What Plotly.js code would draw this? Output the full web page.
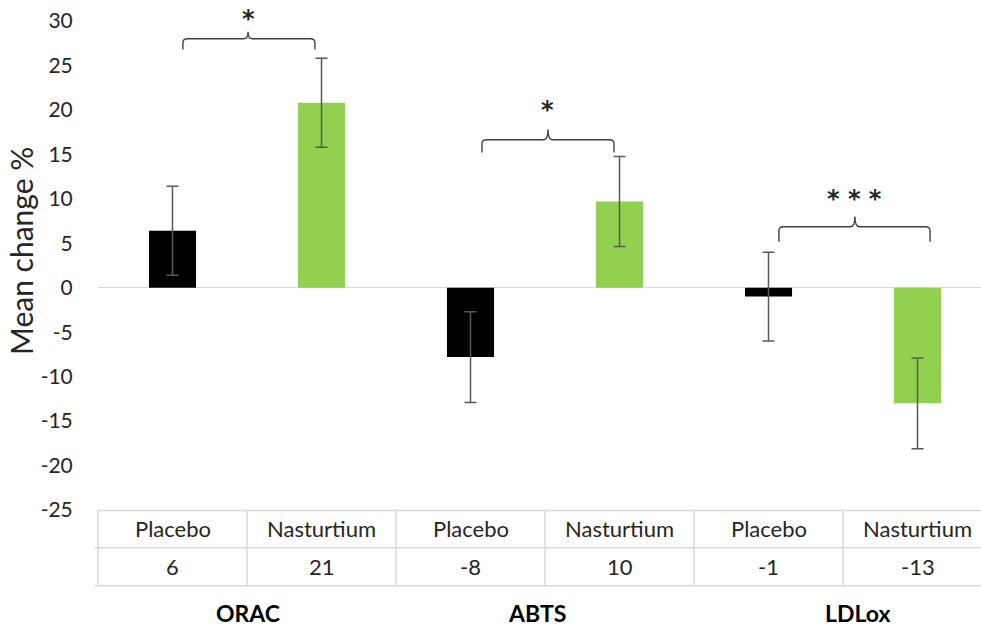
<!DOCTYPE html>
<html>
<head>
<meta charset="utf-8">
<script src="https://cdn.plot.ly/plotly-3.0.1.min.js"></script>
<style>
  html, body { margin: 0; padding: 0; background: #ffffff; }
  #chart { width: 981px; height: 627px; }
</style>
</head>
<body>
<div id="chart"></div>
<script>
// ---- Data ----
const groups = ['ORAC', 'ABTS', 'LDLox'];
const treatments = ['Placebo', 'Nasturtium'];
const placeboMeans = [6.4, -7.8, -1.0];
const nasturtiumMeans = [20.8, 9.7, -13.0];
const placeboErr = [5.0, 5.1, 5.0];
const nasturtiumErr = [5.0, 5.05, 5.1];
const placeboTable = ['6', '-8', '-1'];
const nasturtiumTable = ['21', '10', '-13'];
const significance = ['*', '*', '***'];
const yTicks = [-25, -20, -15, -10, -5, 0, 5, 10, 15, 20, 25, 30];

// ---- Layout geometry ----
const W = 981, H = 627;
const mL = 98, mR = 0, mT = 21, mB = 117;
const plotW = W - mL - mR, plotH = H - mT - mB;
const colPx = 149;
const xMax = -0.5 + plotW / colPx;
const nCols = groups.length * 2;
const paperX = xd => (xd + 0.5) / (xMax + 0.5);
const paperY = py => (H - mB - py) / plotH;

const font = 'Lato, "Open Sans", sans-serif';
const textColor = '#262626';
const gridGray = '#d9d9d9';

const placeboX = groups.map((g, i) => i * 2);
const nastX = groups.map((g, i) => i * 2 + 1);

const traces = [
  {
    type: 'bar', name: treatments[0], x: placeboX, y: placeboMeans,
    width: 0.316, marker: { color: '#000000' },
    error_y: { type: 'data', array: placeboErr, visible: true, color: '#595959', thickness: 1.5, width: 6 },
    hoverinfo: 'y'
  },
  {
    type: 'bar', name: treatments[1], x: nastX, y: nasturtiumMeans,
    width: 0.316, marker: { color: '#92d050' },
    error_y: { type: 'data', array: nasturtiumErr, visible: true, color: '#595959', thickness: 1.5, width: 6 },
    hoverinfo: 'y'
  }
];

// Significance brackets (layout annotations)
const bracketGeo = [
  { x0: 0.07, x1: 0.956, xm: 0.507, yb: 28.0, yt: 26.8, yp: 28.8, sy: 15 },
  { x0: 2.077, x1: 2.963, xm: 2.52, yb: 16.65, yt: 15.2, yp: 17.8, sy: 106 },
  { x0: 4.07, x1: 5.084, xm: 4.58, yb: 6.86, yt: 5.17, yp: 8.0, sy: 195 }
];
const shapes = [];
const annotations = [];
const dx = 0.03, ry = 0.45;
const starShift = 4; // asterisk glyph sits high in its line box
bracketGeo.forEach((b, i) => {
  const p = `M ${b.x0},${b.yt} L ${b.x0},${b.yb - ry} Q ${b.x0},${b.yb} ${b.x0 + dx},${b.yb} ` +
            `L ${b.xm - dx},${b.yb} Q ${b.xm},${b.yb} ${b.xm},${b.yp} ` +
            `Q ${b.xm},${b.yb} ${b.xm + dx},${b.yb} L ${b.x1 - dx},${b.yb} ` +
            `Q ${b.x1},${b.yb} ${b.x1},${b.yb - ry} L ${b.x1},${b.yt}`;
  shapes.push({ type: 'path', xref: 'x', yref: 'y', path: p, line: { color: '#404040', width: 1.4 } });
  annotations.push({
    xref: 'x', yref: 'paper', x: b.xm, y: paperY(b.sy + starShift), yanchor: 'middle', xanchor: 'center',
    text: '<b>' + significance[i].split('').join(' ') + '</b>', showarrow: false,
    font: { family: '"DejaVu Sans", sans-serif', size: 24, color: textColor }
  });
});

// Data table beneath the plot
const yTop = paperY(510.5), yMid = paperY(547.7), yBot = paperY(585.7);
[yTop].forEach(y => shapes.push({ type: 'line', xref: 'paper', yref: 'paper', x0: 0, x1: 1, y0: y, y1: y, line: { color: gridGray, width: 1.5 } }));
[yMid, yBot].forEach(y => shapes.push({ type: 'line', xref: 'paper', yref: 'paper', x0: -3 / plotW, x1: 1, y0: y, y1: y, line: { color: gridGray, width: 1.5 } }));
for (let k = 0; k < nCols; k++) {
  const xp = paperX(k - 0.5);
  shapes.push({ type: 'line', xref: 'paper', yref: 'paper', x0: xp, x1: xp, y0: yTop, y1: yBot, line: { color: gridGray, width: 1.5 } });
}
const tableFont = { family: font, size: 22, color: textColor };
groups.forEach((g, i) => {
  annotations.push({ xref: 'x', yref: 'paper', x: placeboX[i], y: paperY(528), text: treatments[0], showarrow: false, font: tableFont, yanchor: 'middle' });
  annotations.push({ xref: 'x', yref: 'paper', x: nastX[i], y: paperY(528), text: treatments[1], showarrow: false, font: tableFont, yanchor: 'middle' });
  annotations.push({ xref: 'x', yref: 'paper', x: placeboX[i], y: paperY(566), text: placeboTable[i], showarrow: false, font: tableFont, yanchor: 'middle' });
  annotations.push({ xref: 'x', yref: 'paper', x: nastX[i], y: paperY(566), text: nasturtiumTable[i], showarrow: false, font: tableFont, yanchor: 'middle' });
});
const groupLabelX = [0.507, 2.446, 4.594];
groups.forEach((g, i) => {
  annotations.push({ xref: 'x', yref: 'paper', x: groupLabelX[i], y: paperY(613), text: '<b>' + g + '</b>', showarrow: false,
    font: { family: font, size: 23, color: '#000000' }, yanchor: 'middle' });
});
// Y axis title
annotations.push({ xref: 'paper', yref: 'paper', x: (21 - mL) / plotW, y: paperY(251), text: 'Mean change %', textangle: -90,
  showarrow: false, xanchor: 'center', yanchor: 'middle', font: { family: font, size: 30, color: textColor } });

const layout = {
  width: W, height: H,
  margin: { l: mL, r: mR, t: mT, b: mB, pad: 0 },
  paper_bgcolor: '#ffffff', plot_bgcolor: '#ffffff',
  showlegend: false,
  barmode: 'overlay',
  xaxis: { range: [-0.5, xMax], showticklabels: false, showgrid: false, zeroline: false, showline: false, ticks: '', fixedrange: true },
  yaxis: {
    range: [-25, 30], tickvals: yTicks, ticktext: yTicks.map(v => String(v)),
    showgrid: false, showline: false,
    zeroline: true, zerolinecolor: gridGray, zerolinewidth: 1.5,
    ticks: 'outside', ticklen: 20, tickcolor: 'rgba(0,0,0,0)',
    tickfont: { family: font, size: 21, color: textColor }, fixedrange: true
  },
  shapes: shapes,
  annotations: annotations
};

Plotly.newPlot('chart', traces, layout, { displayModeBar: false, staticPlot: true });
</script>
</body>
</html>
